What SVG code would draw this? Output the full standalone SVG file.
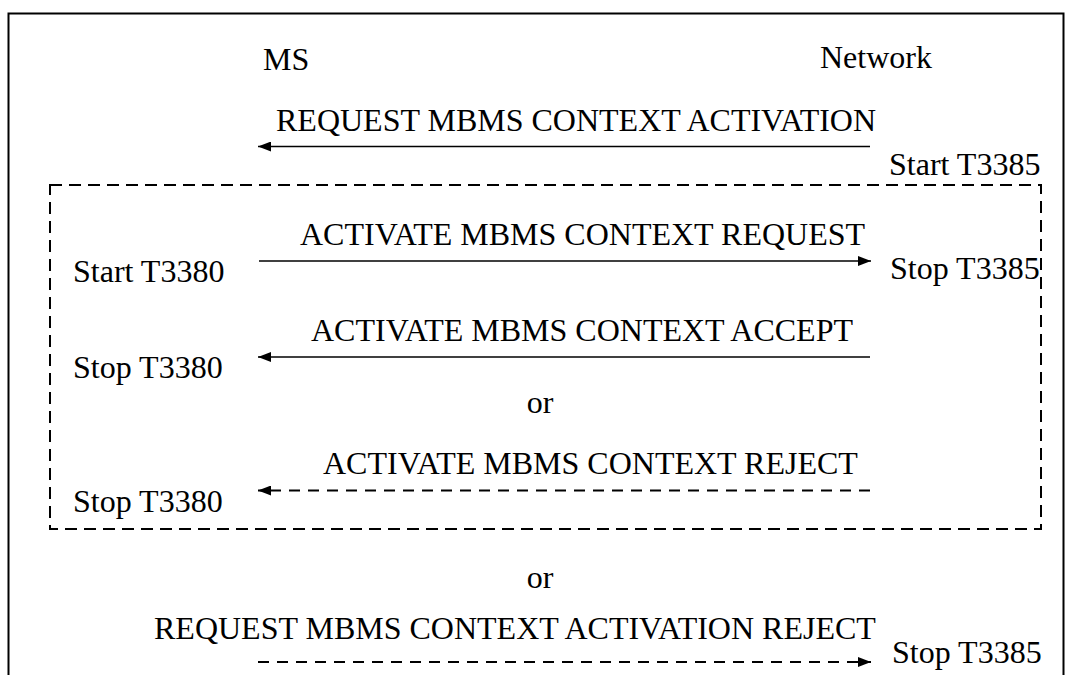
<svg xmlns="http://www.w3.org/2000/svg" width="1066" height="675" viewBox="0 0 1066 675">
<style>
text{font-family:"Liberation Serif","Times New Roman",serif;font-size:32px;fill:#000}
.msg{stroke:#000;stroke-width:1.5;fill:none}
.dash{stroke-width:2;stroke-dasharray:11 8}
.box{stroke:#000;stroke-width:2;fill:none;stroke-dasharray:12 7}
</style>
<defs>
<marker id="ah" viewBox="0 0 13 10" refX="13" refY="5" markerWidth="13" markerHeight="10" markerUnits="userSpaceOnUse" orient="auto">
<path d="M0,0 L13,5 L0,10 Z" fill="#000"/>
</marker>
</defs>
<rect width="1066" height="675" fill="#fff"/>
<g id="frame"><path d="M8.5,675 V13.5 H1063.5 V675" stroke="#000" stroke-width="2" fill="none"/></g>
<g id="ms"><text x="263" y="70">MS</text></g>
<g id="network"><text x="820" y="68">Network</text></g>
<g id="procedure-box"><rect x="50" y="185" width="991" height="344" class="box"/></g>
<g id="connectors">
<line x1="870" y1="146.5" x2="258" y2="146.5" class="msg" marker-end="url(#ah)"/>
<line x1="259" y1="261" x2="871" y2="261" class="msg" marker-end="url(#ah)"/>
<line x1="870" y1="357" x2="258" y2="357" class="msg" marker-end="url(#ah)"/>
<line x1="870" y1="490.5" x2="258" y2="490.5" class="msg dash" marker-end="url(#ah)"/>
<line x1="258" y1="662" x2="871" y2="662" class="msg dash" marker-end="url(#ah)"/>
</g>
<g id="labels">
<text x="276" y="131">REQUEST MBMS CONTEXT ACTIVATION</text>
<text x="889" y="175">Start T3385</text>
<text x="300" y="245">ACTIVATE MBMS CONTEXT REQUEST</text>
<text x="73" y="282">Start T3380</text>
<text x="890" y="279">Stop T3385</text>
<text x="311" y="341">ACTIVATE MBMS CONTEXT ACCEPT</text>
<text x="73" y="378">Stop T3380</text>
<text x="540" y="413" text-anchor="middle">or</text>
<text x="323" y="474">ACTIVATE MBMS CONTEXT REJECT</text>
<text x="73" y="512">Stop T3380</text>
<text x="540" y="588" text-anchor="middle">or</text>
<text x="154" y="639">REQUEST MBMS CONTEXT ACTIVATION REJECT</text>
<text x="892" y="663">Stop T3385</text>
</g>
</svg>
